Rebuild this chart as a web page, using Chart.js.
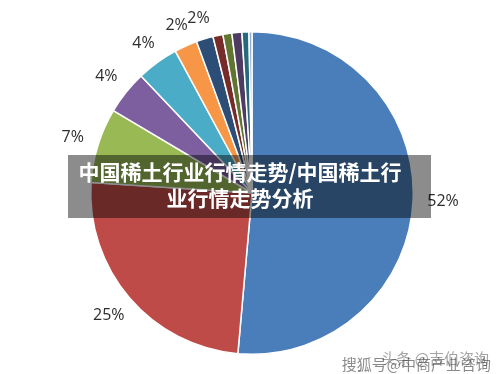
<!DOCTYPE html>
<html>
<head>
<meta charset="utf-8">
<script src="https://cdn.jsdelivr.net/npm/chart.js@4"></script>
<style>
html,body{margin:0;padding:0;background:#fff;}
#wrap{width:500px;height:374px;position:relative;}
</style>
</head>
<body>
<div id="wrap"><canvas id="c" width="500" height="374"></canvas></div>
<script>
// Data (share of total, %)
const categories = ["S1","S2","S3","S4","S5","S6","S7","S8","S9","S10","S11","S12"];
const values = [51.5, 24.7, 7.5, 4.4, 4.2, 2.3, 1.7, 1.0, 0.9, 1.0, 0.7, 0.3];
const valueLabels = ["52%","25%","7%","4%","4%","2%","2%","","","","",""];
const sliceColors = ["#4a7ebb","#be4b48","#98b954","#7d5fa0","#4aacc6","#f79646",
                     "#2c4d75","#772c2a","#5f7530","#4d3b62","#276a7c","#8fa9d2"];
const titleLines = ["中国稀土行业行情走势/中国稀土行","业行情走势分析"];
const watermarkA = "头条 @吉伯咨询";
const watermarkB = "搜狐号@中商产业咨询";

const labelPlugin = {
  id: 'outLabels',
  afterDatasetsDraw(chart) {
    const ctx = chart.ctx;
    const meta = chart.getDatasetMeta(0);
    ctx.save();
    ctx.font = '16px "Open Sans", "Liberation Sans", sans-serif';
    ctx.fillStyle = '#2e2e2e';
    ctx.textAlign = 'center';
    ctx.textBaseline = 'middle';
    meta.data.forEach((arc, i) => {
      const t = valueLabels[i];
      if (!t) return;
      const p = arc.getProps(['x','y','startAngle','endAngle','outerRadius'], true);
      const a = (p.startAngle + p.endAngle) / 2;
      const w = ctx.measureText(t).width;
      const r = p.outerRadius + 19 + Math.abs(Math.cos(a)) * w * 0.35;
      ctx.fillText(t, p.x + Math.cos(a) * r, p.y + Math.sin(a) * r);
    });
    ctx.restore();
  },
  afterDraw(chart) {
    const ctx = chart.ctx;
    ctx.save();
    // title banner overlay
    ctx.fillStyle = 'rgba(0,0,0,0.45)';
    ctx.fillRect(68, 155, 363, 63);
    ctx.fillStyle = '#ffffff';
    ctx.font = 'bold 21px "Noto Sans CJK SC", sans-serif';
    ctx.textAlign = 'center';
    ctx.textBaseline = 'middle';
    ctx.fillText(titleLines[0], 240, 172);
    ctx.fillText(titleLines[1], 240, 198);
    // watermark
    ctx.font = '15px "Noto Sans CJK SC", sans-serif';
    ctx.textAlign = 'right';
    ctx.fillStyle = 'rgba(90,90,90,0.55)';
    ctx.fillText(watermarkA, 489, 358);
    ctx.fillStyle = 'rgba(60,60,60,0.6)';
    ctx.fillText(watermarkB, 491, 364);
    ctx.restore();
  }
};

new Chart(document.getElementById('c'), {
  type: 'pie',
  data: {
    labels: categories,
    datasets: [{
      data: values,
      backgroundColor: sliceColors,
      borderColor: '#ffffff',
      borderWidth: 1.5
    }]
  },
  options: {
    responsive: false,
    animation: false,
    rotation: 0,
    layout: { padding: { left: 90, right: 86, top: 31, bottom: 19 } },
    plugins: { legend: { display: false }, tooltip: { enabled: false } }
  },
  plugins: [labelPlugin]
});
</script>
</body>
</html>
